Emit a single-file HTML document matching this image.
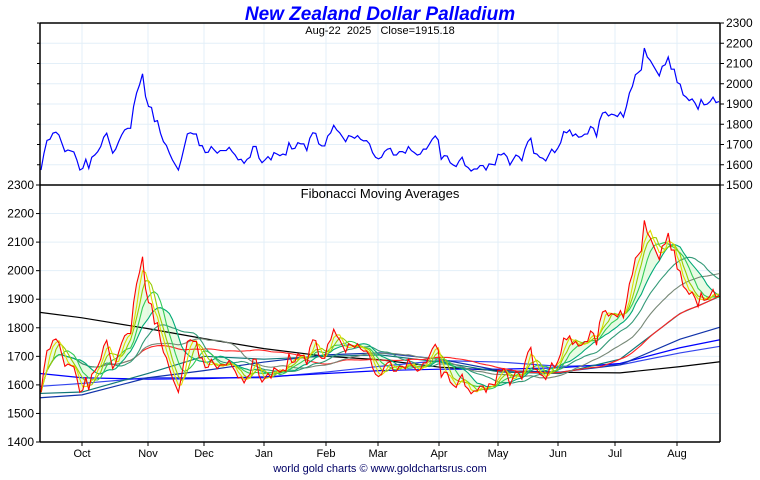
<!DOCTYPE html>
<html><head><meta charset="utf-8"><style>
body{margin:0;background:#fff;}
svg text{font-family:"Liberation Sans",sans-serif;}
</style></head><body>
<svg id="chart" width="760" height="475" viewBox="0 0 760 475">
<rect x="0" y="0" width="760" height="475" fill="#fff"/>
<g id="grid"></g>
<g id="fills"></g>
<g id="lines"></g>
<g id="axes"></g>
<text x="380" y="20" text-anchor="middle" font-size="19" font-weight="bold" font-style="italic" fill="#0000ff">New Zealand Dollar Palladium</text>
<text x="380" y="34" text-anchor="middle" font-size="11" fill="#000" xml:space="preserve">Aug-22  2025   Close=1915.18</text>
<text x="380" y="198" text-anchor="middle" font-size="13" fill="#000">Fibonacci Moving Averages</text>
<text x="380" y="472" text-anchor="middle" font-size="11" fill="#000066">world gold charts © www.goldchartsrus.com</text>
</svg>
<script>
const price=[1574,1657,1720,1726,1756,1761,1747,1706,1665,1673,1668,1663,1624,1574,1582,1627,1582,1637,1648,1665,1690,1736,1756,1706,1657,1677,1714,1747,1772,1780,1780,1888,1954,1995,2049,1937,1888,1883,1813,1818,1756,1714,1695,1657,1624,1599,1574,1627,1690,1752,1758,1752,1752,1695,1694,1660,1662,1690,1673,1657,1670,1670,1670,1686,1665,1648,1624,1627,1607,1627,1637,1690,1690,1632,1610,1624,1640,1624,1660,1653,1645,1653,1648,1709,1678,1681,1709,1703,1703,1670,1731,1758,1755,1703,1693,1693,1742,1758,1795,1772,1758,1736,1714,1744,1739,1731,1744,1726,1718,1719,1703,1660,1637,1629,1637,1665,1677,1681,1648,1648,1665,1665,1657,1690,1670,1660,1648,1653,1677,1677,1701,1726,1742,1722,1627,1645,1643,1610,1599,1591,1619,1637,1596,1586,1569,1579,1579,1596,1596,1574,1604,1602,1599,1652,1648,1657,1640,1599,1624,1648,1640,1620,1677,1714,1731,1657,1653,1637,1632,1619,1648,1677,1660,1681,1709,1764,1758,1772,1742,1752,1736,1739,1751,1752,1789,1780,1739,1818,1855,1860,1841,1850,1846,1838,1860,1835,1888,1954,1987,2044,2056,2069,2176,2132,2115,2089,2064,2039,2086,2094,2132,2072,2072,2006,1998,1945,1934,1917,1925,1904,1874,1922,1896,1899,1912,1934,1907,1912];
const shortPeriods=[1,3,5,8,13,21,34,55];
const shortColors=["#ff0000","#dddd00","#99cc00","#33cc55","#00aa77","#339977","#778877","#ff2222"];
const longX=[40,82,148,204,264,326,380,440,500,560,620,680,720];
const ma89=[1570,1575,1640,1700,1690,1700,1705,1680,1645,1640,1690,1850,1910];
const ma144=[1555,1565,1625,1650,1680,1705,1712,1690,1650,1645,1670,1760,1802];
const ma233=[1640,1625,1620,1622,1628,1640,1650,1655,1655,1660,1675,1730,1758];
const ma377=[1595,1605,1625,1625,1625,1645,1665,1685,1680,1665,1670,1712,1735];
const ma610=[1854,1835,1797,1762,1727,1700,1688,1662,1650,1644,1642,1664,1681];
const longColors=["#117777","#1133aa","#0000ff","#3344ee","#000000"];
const months=["Oct","Nov","Dec","Jan","Feb","Mar","Apr","May","Jun","Jul","Aug"];
const monthX=[82,148,204,264,326,378,439,498,558,615,677];
const topTicks=[2300,2200,2100,2000,1900,1800,1700,1600,1500];
const botTicks=[2300,2200,2100,2000,1900,1800,1700,1600,1500,1400];

const NS="http://www.w3.org/2000/svg";
const X0=40,X1=720;
const yTop=v=>23+(2300-v)*162/800;
const yBot=v=>185+(2300-v)*257/900;
const xIdx=i=>41+i*(678/(price.length-1));
function mk(tag,attrs,parent){const e=document.createElementNS(NS,tag);for(const k in attrs)e.setAttribute(k,attrs[k]);document.getElementById(parent).appendChild(e);return e;}
function sma(p){return price.map((_,i)=>{const s=Math.max(0,i-p+1);let t=0;for(let j=s;j<=i;j++)t+=price[j];return t/(i-s+1);});}

monthX.forEach(x=>{
  const g=mk('line',{x1:x,y1:23,x2:x,y2:442,stroke:'#e3eff8','stroke-width':1},'grid');
  
  
});
topTicks.forEach(v=>{
  const g=mk('line',{x1:X0,y1:yTop(v),x2:X1,y2:yTop(v),stroke:'#e3eff8'},'grid');
  
  
});
botTicks.forEach(v=>{
  const g=mk('line',{x1:X0,y1:yBot(v),x2:X1,y2:yBot(v),stroke:'#e3eff8'},'grid');
  
  
});

const pl=mk('polyline',{points:price.map((v,i)=>xIdx(i)+','+yTop(v)).join(' '),fill:'none',stroke:'#0000ff','stroke-width':1.2},'lines');



[ma610,ma377,ma233,ma144,ma89].forEach((arr,k)=>{
  const col=[longColors[4],longColors[3],longColors[2],longColors[1],longColors[0]][k];
  const l=mk('polyline',{points:arr.map((v,i)=>longX[i]+','+yBot(v)).join(' '),fill:'none',stroke:col,'stroke-width':1.2},'lines');
  
  
});
const shorts=shortPeriods.map(sma);
const fa=shorts[0].map((v,i)=>xIdx(i)+','+yBot(v));
const fb=shorts[4].map((v,i)=>xIdx(i)+','+yBot(v)).reverse();
const band=mk('polygon',{points:fa.concat(fb).join(' '),fill:'#d8f8d0','fill-opacity':0.6,stroke:'none'},'fills');


for(let k=shorts.length-1;k>=0;k--){
  const l=mk('polyline',{points:shorts[k].map((v,i)=>xIdx(i)+','+yBot(v)).join(' '),fill:'none',stroke:shortColors[k],'stroke-width':1.1},'lines');
  
  
}

[[X0,23,X1,23],[X0,185,X1,185],[X0,442,X1,442],[X0,23,X0,442],[X1,23,X1,442]].forEach(c=>{
  const l=mk('line',{x1:c[0],y1:c[1],x2:c[2],y2:c[3],stroke:'#000','stroke-width':1.5},'axes');
  
  
});
topTicks.forEach(v=>{
  mk('line',{x1:X1,y1:yTop(v),x2:X1+4,y2:yTop(v),stroke:'#000'},'axes');
  mk('line',{x1:X0-3,y1:yTop(v),x2:X0,y2:yTop(v),stroke:'#000'},'axes');
  const t=mk('text',{x:X1+6,y:yTop(v)+4,'font-size':12},'axes');t.textContent=v;
  
  
});
botTicks.forEach(v=>{
  mk('line',{x1:X0-4,y1:yBot(v),x2:X0,y2:yBot(v),stroke:'#000'},'axes');
  const t=mk('text',{x:X0-6,y:yBot(v)+4,'font-size':12,'text-anchor':'end'},'axes');t.textContent=v;
  
  
});
months.forEach((m,i)=>{
  mk('line',{x1:monthX[i],y1:442,x2:monthX[i],y2:446,stroke:'#000'},'axes');
  const t=mk('text',{x:monthX[i],y:457,'font-size':11,'text-anchor':'middle'},'axes');t.textContent=m;
  
  
});
</script>
</body></html>
